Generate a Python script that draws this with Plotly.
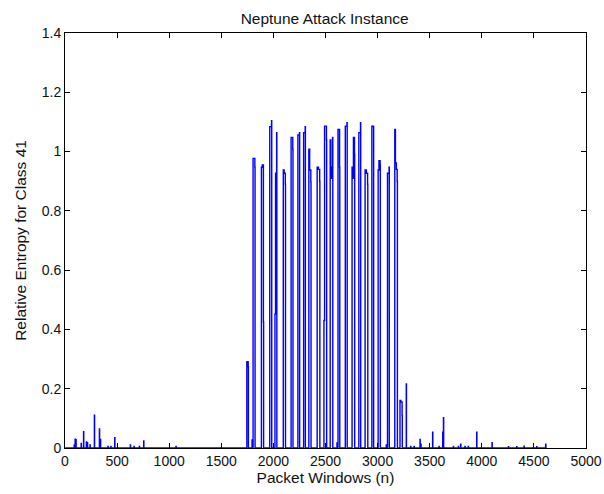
import plotly.graph_objects as go

# ---- data (window index, relative entropy) ----
last_window = 4623

small_x = [88, 97, 105, 155, 178, 205, 215, 240, 282, 330, 340, 412, 440, 477,
           627, 662, 713, 755, 1065, 1795, 2610, 3083,
           3317, 3350, 3407, 3415, 3528, 3589, 3625, 3632, 3727, 3775, 3797,
           3838, 3870, 3951, 4098, 4255, 4335, 4405, 4527, 4613]
small_y = [0.010, 0.030, 0.028, 0.015, 0.055, 0.020, 0.018, 0.010, 0.111, 0.064,
           0.029, 0.005, 0.005, 0.035, 0.010, 0.005, 0.005, 0.024, 0.005, 0.027,
           0.017, 0.010,
           0.005, 0.005, 0.029, 0.013, 0.053, 0.005, 0.053, 0.102, 0.005, 0.005,
           0.013, 0.005, 0.005, 0.053, 0.018, 0.004, 0.004, 0.006, 0.004, 0.013]

spike_x = [
    [1745, 1758],
    [1805, 1822],
    [1885, 1893, 1904],
    [1965, 1982],
    [2015, 2021, 2031],
    [2095, 2103, 2114],
    [2170, 2186],
    [2235, 2250],
    [2290, 2305],
    [2340, 2348, 2359],
    [2420, 2432, 2444],
    [2485, 2491, 2509],
    [2545, 2551, 2558, 2568],
    [2620, 2635],
    [2690, 2706],
    [2755, 2761, 2768, 2778],
    [2820, 2836],
    [2880, 2892, 2904],
    [2945, 2960],
    [3005, 3013, 3024],
    [3095, 3110],
    [3165, 3171, 3180, 3188],
    [3215, 3224, 3235],
    [3275],
]
spike_y = [
    [0.291, 0.274],
    [0.977, 0.947],
    [0.947, 0.955, 0.425],
    [1.084, 1.104],
    [0.452, 0.927, 1.064],
    [0.938, 0.927, 0.890],
    [1.048, 1.008],
    [1.056, 1.064],
    [1.064, 1.084],
    [1.008, 0.938, 0.897],
    [0.947, 0.940, 0.900],
    [0.430, 1.086, 1.039],
    [1.039, 0.947, 0.910, 1.048],
    [1.075, 0.947],
    [1.086, 1.097],
    [0.947, 0.910, 1.048, 0.992],
    [1.064, 1.097],
    [0.938, 0.927, 0.890],
    [1.086, 1.084],
    [0.938, 0.969, 0.955],
    [0.927, 0.947],
    [1.075, 0.962, 0.940, 0.900],
    [0.160, 0.155, 0.110],
    [0.216],
]

x_ticks = [0, 500, 1000, 1500, 2000, 2500, 3000, 3500, 4000, 4500, 5000]
y_ticks = [0, 0.2, 0.4, 0.6, 0.8, 1.0, 1.2, 1.4]
y_tick_text = ["0", "0.2", "0.4", "0.6", "0.8", "1", "1.2", "1.4"]

# ---- assemble the series: zero baseline with the non-zero windows ----
events = []
for sx, sy in zip(small_x, small_y):
    events.append(([sx], [sy]))
for xs, ys in zip(spike_x, spike_y):
    events.append((xs, ys))
events.sort(key=lambda e: e[0][0])

xs_all, ys_all = [1], [0.0]
for xs, ys in events:
    xs_all += [xs[0] - 1] + xs + [xs[-1] + 2]
    ys_all += [0.0] + ys + [0.0]
xs_all.append(last_window)
ys_all.append(0.0)

fig = go.Figure()
fig.add_trace(go.Scatter(x=xs_all, y=ys_all, mode="lines",
                         line=dict(color="#0000ff", width=1.4, shape="hv"),
                         showlegend=False))

fam = "Liberation Sans, Arial, sans-serif"
tick_font = dict(family=fam, size=14, color="#111111")
label_font = dict(family=fam, size=15.5, color="#111111")
axis_common = dict(showgrid=False, zeroline=False, showline=True, linecolor="#000000",
                   linewidth=1, mirror="ticks", ticks="inside", ticklen=5,
                   tickcolor="#000000", tickwidth=1, tickfont=tick_font,
                   automargin=False)

fig.update_layout(
    width=604, height=494,
    margin=dict(l=65, r=18, t=33, b=46),
    paper_bgcolor="white", plot_bgcolor="white",
    title=dict(text="Neptune Attack Instance", x=0.5375, xanchor="center",
               xref="container", yref="container", y=1 - 19 / 494,
               yanchor="middle", font=label_font),
    xaxis=dict(range=[0, 5000], tickvals=x_ticks,
               title=dict(text="Packet Windows (n)", font=label_font, standoff=2),
               **axis_common),
    yaxis=dict(range=[0, 1.4], tickvals=y_ticks, ticktext=y_tick_text,
               title=dict(text="Relative Entropy for Class 41", font=label_font,
                          standoff=11),
               **axis_common),
)

fig.write_html("out.html")
